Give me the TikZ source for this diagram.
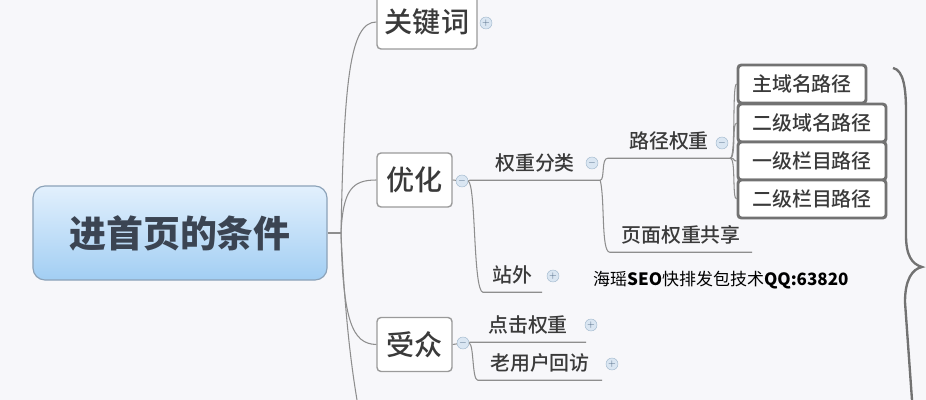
\documentclass[tikz,border=0pt]{standalone}
\usepackage{fontspec}
\setmainfont{Noto Sans CJK SC}
\newfontfamily\medfont{Noto Sans CJK SC}[UprightFont=* Medium, BoldFont=* Black]
\usetikzlibrary{shadows}

\definecolor{bgc}{HTML}{F7F7FA}
\definecolor{lnc}{HTML}{8E8E8E}
\definecolor{txt}{HTML}{3A3A3A}
\definecolor{rootfg}{HTML}{3B4452}
\definecolor{roottop}{HTML}{E2F0FD}
\definecolor{rootbot}{HTML}{A2CEF3}
\definecolor{rootedge}{HTML}{8CA2B8}
\definecolor{boxedge}{HTML}{9A9A9A}
\definecolor{bxedge}{HTML}{727272}
\definecolor{tgedge}{HTML}{A3B9CE}
\definecolor{tgfill}{HTML}{DAE6F2}
\definecolor{tgfg}{HTML}{4A6480}

\tikzstyle{root} = [rectangle, rounded corners=0.36cm, draw=rootedge, line width=1pt, top color=roottop, bottom color=rootbot, minimum width=8.82cm, minimum height=2.82cm, text=rootfg, font=\fontsize{31.5}{36}\selectfont\medfont\bfseries]
\tikzstyle{b} = [rectangle, rounded corners=0.12cm, draw=boxedge, line width=1.2pt, fill=white, text=txt, minimum height=1.62cm, font=\fontsize{24}{28}\selectfont\medfont]
\tikzstyle{t} = [inner sep=0pt, minimum height=1.02cm, text=txt, font=\fontsize{17}{20}\selectfont\medfont]
\tikzstyle{bx} = [rectangle, rounded corners=0.1cm, draw=bxedge, line width=2.5pt, fill=white, text=txt, minimum width=4.44cm, minimum height=1.14cm, font=\fontsize{17}{20}\selectfont\medfont, drop shadow={opacity=0.25, shadow xshift=1pt, shadow yshift=-1pt}]
\tikzstyle{tg} = [circle, draw=tgedge, fill=tgfill, inner sep=0pt, minimum size=0.36cm, text=tgfg, font=\fontsize{8}{8}\selectfont]
\tikzstyle{c} = [draw=lnc, line width=0.9pt]

\begin{document}
\begin{tikzpicture}[x=0.03cm, y=-0.03cm]
\fill [bgc] (0,0) rectangle (926,400);
\useasboundingbox (0,0) rectangle (926,400);

\node [root] (root) at (180,233) {进首页的条件};
\node [b, minimum width=3cm] (kw) at (427,22) {关键词};
\node [b, minimum width=2.25cm] (opt) at (414.5,180) {优化};
\node [b, minimum width=2.25cm] (aud) at (414.5,344.5) {受众};

\node [tg] (kw-t) at (486,23) {$+$};
\node [tg] (opt-t) at (462,181) {$-$};
\node [tg] (aud-t) at (463,343) {$-$};

\node [t, minimum width=3.9cm] (w) at (535,163) {权重分类};
\node [t, minimum width=1.77cm] (zw) at (512.5,275) {站外};
\node [t, minimum width=3.48cm] (dj) at (528,325) {点击权重};
\node [t, minimum width=3.72cm] (lh) at (540,363) {老用户回访};
\node [t, minimum width=3.66cm] (lj) at (669,141) {路径权重};
\node [t, minimum width=4.26cm] (ym) at (681,235) {页面权重共享};

\node [tg] (w-t) at (592,163) {$-$};
\node [tg] (zw-t) at (553,276) {$+$};
\node [tg] (dj-t) at (591,325) {$+$};
\node [tg] (lh-t) at (612,364) {$+$};
\node [tg] (lj-t) at (722,143) {$-$};

\node [bx, minimum width=3.84cm] (b1) at (802,84) {主域名路径};
\node [bx, below of=b1, node distance=1.17cm, xshift=0.3cm] (b2) {二级域名路径};
\node [bx, below of=b2, node distance=1.14cm] (b3) {一级栏目路径};
\node [bx, below of=b3, node distance=1.14cm] (b4) {二级栏目路径};

\node [anchor=west, inner sep=0pt, text=black, font=\fontsize{14.5}{17}\selectfont] (wm) at (593,280) {海瑶\textbf{SEO}快排发包技术\textbf{QQ:63820}};

% root to first level
\coordinate (hub) at (341,233);
\coordinate (more) at (357,400);
\draw [c] (root.east) -- (hub);
\draw [c] (hub) .. controls (344,80) and (350,22) .. (kw.west);
\draw [c] (hub) .. controls (343,190) and (352,180) .. (opt.west);
\draw [c] (hub) .. controls (343,320) and (352,344) .. (aud.west);
\draw [c] (hub) .. controls (345,320) and (352,370) .. (more);

% optimisation
\draw [c] (opt.east) -- (opt-t);
\draw [c] (opt-t.east) -- (w.south west) -- (w.south east);
\draw [c] (opt-t.east) .. controls (476,185) and (473,290) .. (zw.south west) -- (zw.south east);
\draw [c] (w.south east) .. controls (605,180) and (601,158) .. (lj.south west) -- (lj.south east);
\draw [c] (w.south east) .. controls (605,200) and (601,252) .. (ym.south west) -- (ym.south east);
\draw [c] (lj.south east) .. controls (736,158) and (732,84) .. (b1.west);
\draw [c] (lj.south east) .. controls (736,158) and (732,123) .. (b2.west);
\draw [c] (lj.south east) .. controls (736,158) and (732,161) .. (b3.west);
\draw [c] (lj.south east) .. controls (736,158) and (732,199) .. (b4.west);

% audience
\draw [c] (aud.east) -- (aud-t);
\draw [c] (aud-t.east) -- (dj.south west) -- (dj.south east);
\draw [c] (aud-t.east) .. controls (474,345) and (472,380) .. (lh.south west) -- (lh.south east);

% brace
\draw [draw=bxedge, line width=2pt] (893,68) .. controls (904,70) and (906,90) .. (906,112) -- (906,235)
  .. controls (906,256) and (912,264) .. (922,267) .. controls (912,269) and (905,280) .. (905,302) -- (912,400);
\end{tikzpicture}
\end{document}
